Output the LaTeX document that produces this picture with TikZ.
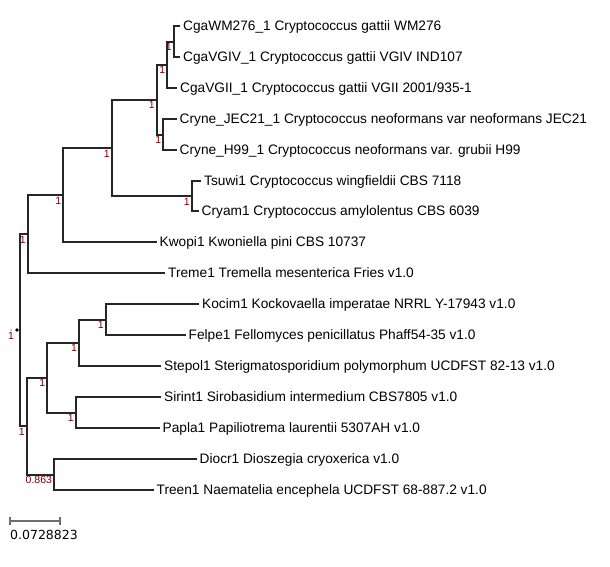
\documentclass[tikz,border=0pt]{standalone}
\usepackage{fontspec}
\setmainfont{Liberation Sans}
\newfontfamily\barfont{DejaVu Sans}
\definecolor{bootred}{RGB}{128,0,0}
\definecolor{bargray}{RGB}{110,110,110}
\tikzset{
  leaf/.style={anchor=west, inner xsep=3pt, inner ysep=0pt, text height=10pt, text depth=1pt,
    font=\fontsize{13.7}{14}\selectfont},
  boot/.style={anchor=north east, inner sep=0pt, xshift=-1.8pt, yshift=-1.8pt, text=bootred,
    font=\fontsize{10.5}{11}\selectfont},
  branch/.style={draw=black!85, line width=2pt, line join=miter},
}
\begin{document}
\begin{tikzpicture}[x=1pt,y=-1pt]
      \useasboundingbox (0,0) rectangle (610,566);
      \path
        (180,26) node[leaf] (wm276){CgaWM276\_1 Cryptococcus gattii WM276}
        (180,57) node[leaf] (vgiv){CgaVGIV\_1 Cryptococcus gattii VGIV IND107}
        (177,88) node[leaf] (vgii){CgaVGII\_1 Cryptococcus gattii VGII 2001/935-1}
        (176.5,119) node[leaf] (jec21){Cryne\_JEC21\_1 Cryptococcus neoformans var neoformans JEC21}
        (176.5,150) node[leaf] (h99){Cryne\_H99\_1 Cryptococcus neoformans var. grubii H99}
        (201,181) node[leaf] (tsuwi){Tsuwi1 Cryptococcus wingfieldii CBS 7118}
        (198.5,211) node[leaf] (cryam){Cryam1 Cryptococcus amylolentus CBS 6039}
        (156.5,242) node[leaf] (kwopi){Kwopi1 Kwoniella pini CBS 10737}
        (165,273) node[leaf] (treme){Treme1 Tremella mesenterica Fries v1.0}
        (199,304) node[leaf] (kocim){Kocim1 Kockovaella imperatae NRRL Y-17943 v1.0}
        (185.5,335) node[leaf] (felpe){Felpe1 Fellomyces penicillatus Phaff54-35 v1.0}
        (161,366) node[leaf] (stepol){Stepol1 Sterigmatosporidium polymorphum UCDFST 82-13 v1.0}
        (161,397) node[leaf] (sirint){Sirint1 Sirobasidium intermedium CBS7805 v1.0}
        (159.5,428) node[leaf] (papla){Papla1 Papiliotrema laurentii 5307AH v1.0}
        (196.5,459) node[leaf] (diocr){Diocr1 Dioszegia cryoxerica v1.0}
        (153.5,490) node[leaf] (treen){Treen1 Naematelia encephela UCDFST 68-887.2 v1.0};
      \coordinate (n1) at (173.7,41.5);
      \coordinate (n2) at (167.3,64.75);
      \coordinate (n3) at (163.3,134.5);
      \coordinate (n4) at (156.7,99.6);
      \coordinate (n5) at (191.7,196);
      \coordinate (n6) at (111.7,147.8);
      \coordinate (n7) at (63.3,194.9);
      \coordinate (n8) at (27.7,234);
      \coordinate (n9) at (105.7,319.5);
      \coordinate (n10) at (79,342.75);
      \coordinate (n11) at (75.7,412.5);
      \coordinate (n12) at (47.3,377.6);
      \coordinate (n13) at (54,474.5);
      \coordinate (n14) at (26.7,426);
      \coordinate (root) at (20,330);
      \begin{scope}[branch]
        \draw (root) |- (n8);
        \draw (root) |- (n14);
        \draw (n8) |- (n7);
        \draw (n8) |- (treme.west);
        \draw (n7) |- (n6);
        \draw (n7) |- (kwopi.west);
        \draw (n6) |- (n4);
        \draw (n6) |- (n5);
        \draw (n4) |- (n2);
        \draw (n4) |- (n3);
        \draw (n2) |- (n1);
        \draw (n2) |- (vgii.west);
        \draw (n1) |- (wm276.west);
        \draw (n1) |- (vgiv.west);
        \draw (n3) |- (jec21.west);
        \draw (n3) |- (h99.west);
        \draw (n5) |- (tsuwi.west);
        \draw (n5) |- (cryam.west);
        \draw (n14) |- (n12);
        \draw (n14) |- (n13);
        \draw (n12) |- (n10);
        \draw (n12) |- (n11);
        \draw (n10) |- (n9);
        \draw (n10) |- (stepol.west);
        \draw (n9) |- (kocim.west);
        \draw (n9) |- (felpe.west);
        \draw (n11) |- (sirint.west);
        \draw (n11) |- (papla.west);
        \draw (n13) |- (diocr.west);
        \draw (n13) |- (treen.west);
      \end{scope}
      \foreach \n in {n1,n2,n3,n4,n5,n6,n7,n8,n9,n10,n11,n12,n14}
        \node[boot] (b\n) at (\n) {1};
      \node[boot] (bn13) at (n13) {0.863};
      \node[boot, xshift=-4pt] (broot) at (root) {1};
      \fill (17,330) circle (1.8);
      \fill[black!40] (11,330) circle (0.9);
      \draw[bargray, line width=1.5pt] (10,521) -- (60,521)
        (10,517) -- (10,525) (60,517) -- (60,525);
      \node[anchor=west, inner sep=0pt, font=\barfont\fontsize{12.5}{13}\selectfont] (scale) at (10,535) {0.0728823};
    \end{tikzpicture}
\end{document}
